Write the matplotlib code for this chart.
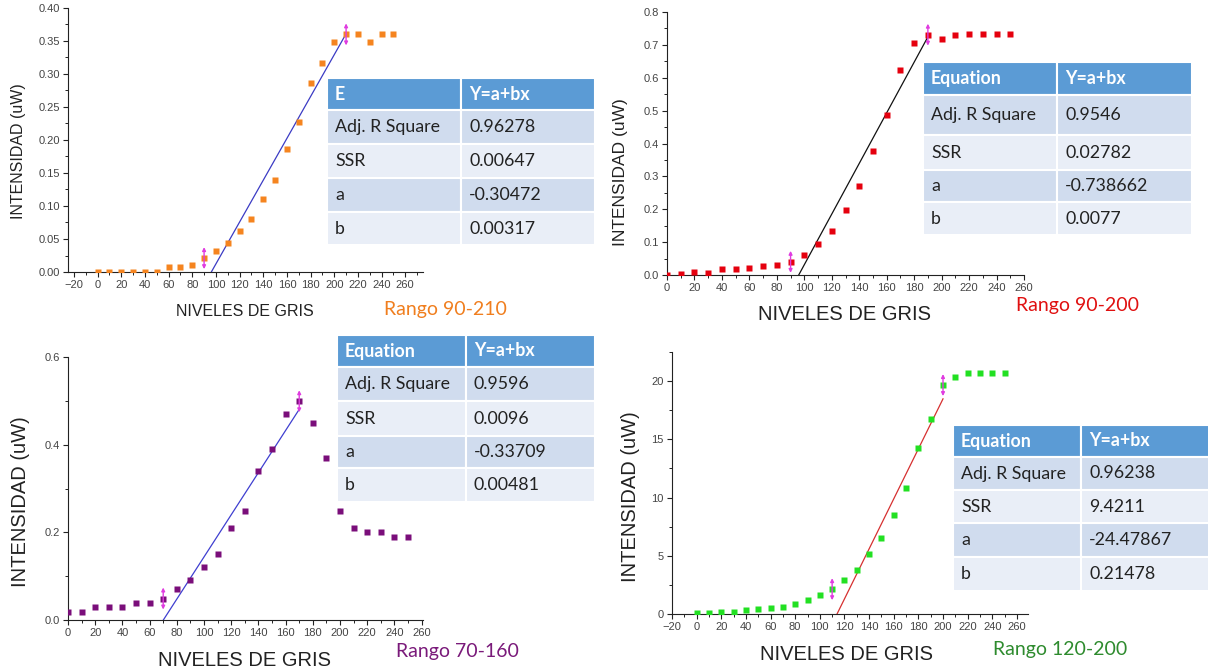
import matplotlib
matplotlib.use("Agg")
import matplotlib.pyplot as plt
import matplotlib.transforms as mtransforms
from matplotlib.patches import Rectangle
from matplotlib.ticker import MultipleLocator, FormatStrFormatter

W, H = 1208, 670

# Grey levels (x) shared by the four curves
niveles = [0, 10, 20, 30, 40, 50, 60, 70, 80, 90, 100, 110, 120,
           130, 140, 150, 160, 170, 180, 190, 200, 210, 220, 230, 240, 250]

# Measured intensity (uW) for each channel
intensidad_naranja = [0, 0, 0, 0, 0, 0, 0.008, 0.008, 0.010, 0.021, 0.032, 0.044, 0.062,
                      0.080, 0.110, 0.139, 0.186, 0.228, 0.287, 0.317, 0.349, 0.360,
                      0.360, 0.349, 0.360, 0.360]
intensidad_roja = [0.0, 0.002, 0.008, 0.007, 0.017, 0.017, 0.021, 0.026, 0.029, 0.040,
                   0.062, 0.095, 0.135, 0.197, 0.271, 0.376, 0.486, 0.624, 0.707, 0.731,
                   0.718, 0.731, 0.734, 0.734, 0.734, 0.734]
intensidad_morada = [0.019, 0.019, 0.029, 0.029, 0.029, 0.039, 0.039, 0.049, 0.070, 0.091,
                     0.120, 0.150, 0.210, 0.249, 0.340, 0.390, 0.470, 0.499, 0.450, 0.370,
                     0.248, 0.209, 0.200, 0.200, 0.189, 0.189]
intensidad_verde = [0.1, 0.1, 0.2, 0.2, 0.34, 0.45, 0.5, 0.62, 0.9, 1.2, 1.62, 2.13, 2.9,
                    3.75, 5.11, 6.5, 8.52, 10.82, 14.29, 16.76, 19.66, 20.37, 20.66,
                    20.66, 20.66, 20.66]

# Linear fit results Y = a + b x
cabecera = ["E", "Equation", "Equation", "Equation"]
adj_r2 = ["0.96278", "0.9546", "0.9596", "0.96238"]
ssr = ["0.00647", "0.02782", "0.0096", "9.4211"]
coef_a = ["-0.30472", "-0.738662", "-0.33709", "-24.47867"]
coef_b = ["0.00317", "0.0077", "0.00481", "0.21478"]
tramo_ajuste = [(90, 210), (90, 190), (70, 170), (110, 200)]
rangos = ["Rango 90-210", "Rango 90-200", "Rango 70-160", "Rango 120-200"]

colores = ["#F5841F", "#E5000E", "#7A0E7A", "#22E022"]
colores_recta = ["#3B3BC4", "#111111", "#3F3FD0", "#D63030"]
colores_rango = ["#F07E1E", "#E01010", "#7A1A7A", "#2E8B2E"]

serie = [intensidad_naranja, intensidad_roja, intensidad_morada, intensidad_verde]

# Layout (pixels): axes box, x/y limits, y ticks
paneles = [
    dict(box=(68, 8, 423, 272), xlim=(-25, 275), ylim=(0, 0.40), ymaj=0.05, ymin=0.025, yfmt="%.2f"),
    dict(box=(667, 12, 1024, 275), xlim=(0, 260), ylim=(0, 0.8), ymaj=0.1, ymin=0.05, yfmt="%.1f"),
    dict(box=(68, 357, 423, 620), xlim=(0, 261), ylim=(0, 0.6), ymaj=0.2, ymin=0.1, yfmt="%.1f"),
    dict(box=(672, 352, 1028, 614), xlim=(-20, 269), ylim=(0, 22.5), ymaj=5, ymin=2.5, yfmt="%d"),
]
ylabel_pos = [(19, 151, 11.5), (620, 172, 12.5), (21, 502, 14.5), (630, 497, 14.5)]
xlabel_pos = [(245, 312, 11.5), (845, 315, 14.5), (245, 661, 14.5), (847, 655, 14.5)]
rango_pos = [(445, 310), (1077, 306), (457, 652), (1060, 650)]
tablas = [
    dict(x=(327, 461, 595), y=[78, 110, 144, 178, 212, 245]),
    dict(x=(923, 1057, 1192), y=[62, 95, 135, 170, 202, 235]),
    dict(x=(337, 466, 595), y=[335, 367, 401, 436, 468, 502]),
    dict(x=(953, 1081, 1212), y=[425, 457, 490, 523, 557, 591]),
]

fig = plt.figure(figsize=(W / 100, H / 100), dpi=100)
fig.patch.set_facecolor("white")


def fx(x):
    return x / W


def fy(y):
    return 1 - y / H


for i, p in enumerate(paneles):
    l, t, r, b = p["box"]
    ax = fig.add_axes([fx(l), fy(b), (r - l) / W, (b - t) / H])
    ax.set_xlim(*p["xlim"])
    ax.set_ylim(*p["ylim"])
    for s in ("top", "right"):
        ax.spines[s].set_visible(False)
    for s in ("left", "bottom"):
        ax.spines[s].set_color("#222222")
        ax.spines[s].set_linewidth(0.8)
    ax.xaxis.set_major_locator(MultipleLocator(20))
    ax.xaxis.set_minor_locator(MultipleLocator(10))
    ax.yaxis.set_major_locator(MultipleLocator(p["ymaj"]))
    ax.yaxis.set_minor_locator(MultipleLocator(p["ymin"]))
    ax.yaxis.set_major_formatter(FormatStrFormatter(p["yfmt"]))
    ax.tick_params(which="major", direction="out", length=3.5, width=0.8,
                   labelsize=8, labelcolor="#444444", color="#222222", pad=2.5)
    ax.tick_params(which="minor", direction="out", length=2, width=0.7, color="#222222")
    for lab in ax.get_xticklabels() + ax.get_yticklabels():
        lab.set_fontfamily("Liberation Sans")

    ax.plot(niveles, serie[i], "s", color=colores[i], ms=5, mec="none", zorder=3)

    # fitted straight line over the fit range
    a, bb = float(coef_a[i]), float(coef_b[i])
    x0, x1 = tramo_ajuste[i]
    ax.plot([x0, x1], [a + bb * x0, a + bb * x1], color=colores_recta[i], lw=0.9, zorder=2)

    # range markers at both ends of the fit range
    up = mtransforms.offset_copy(ax.transData, fig=fig, x=0, y=11, units="dots")
    dn = mtransforms.offset_copy(ax.transData, fig=fig, x=0, y=-11, units="dots")
    for xv in (x0, x1):
        yv = serie[i][niveles.index(xv)]
        ax.annotate("", xy=(xv, yv), xycoords=up, xytext=(xv, yv), textcoords=dn,
                    arrowprops=dict(arrowstyle="<|-|>", color="#E03CE0", lw=1.0,
                                    mutation_scale=5, shrinkA=0, shrinkB=0),
                    annotation_clip=False, zorder=4)

    xl, yl, fs = ylabel_pos[i]
    fig.text(fx(xl), fy(yl), "INTENSIDAD (uW)", rotation=90, ha="center", va="center",
             fontsize=fs, family="Liberation Sans", color="#222222")
    xl, yl, fs = xlabel_pos[i]
    fig.text(fx(xl), fy(yl), "NIVELES DE GRIS", ha="center", va="center",
             fontsize=fs, family="Liberation Sans", color="#222222")
    xr, yr = rango_pos[i]
    fig.text(fx(xr), fy(yr), rangos[i], ha="center", va="center",
             fontsize=14, family="Lato", color=colores_rango[i])

    # statistics table
    tb = tablas[i]
    xa, xm, xb = tb["x"]
    ys = tb["y"]
    filas = [(cabecera[i], "Y=a+bx"), ("Adj. R Square", adj_r2[i]), ("SSR", ssr[i]),
             ("a", coef_a[i]), ("b", coef_b[i])]
    fondos = ["#5B9BD5", "#D0DCEE", "#E9EEF7", "#D0DCEE", "#E9EEF7"]
    for k, (c1, c2) in enumerate(filas):
        top, bot = ys[k], ys[k + 1]
        for (cl, cr), txt in (((xa, xm), c1), ((xm, xb), c2)):
            fig.add_artist(Rectangle((fx(cl), fy(bot)), (cr - cl) / W, (bot - top) / H,
                                     transform=fig.transFigure, facecolor=fondos[k],
                                     edgecolor="white", linewidth=1.5, zorder=5))
            fig.text(fx(cl + 8), fy((top + bot) / 2), txt, ha="left", va="center",
                     fontsize=12.8, family="Lato",
                     color="white" if k == 0 else "#222222",
                     fontweight="bold" if k == 0 else "normal", zorder=6)

fig.savefig("out.png", dpi=100, facecolor="white")
